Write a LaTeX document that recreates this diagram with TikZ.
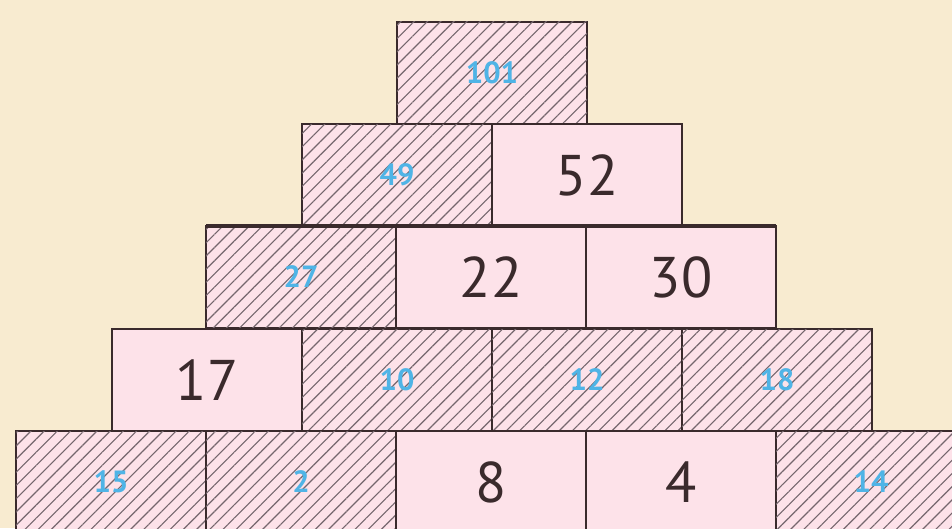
\documentclass[tikz,border=0pt]{standalone}
\usepackage{fontspec}
\setmainfont{PT Sans}
\usetikzlibrary{patterns.meta}
\definecolor{bg}{HTML}{F8EBD0}
\definecolor{brick}{HTML}{FDE2E9}
\definecolor{edge}{HTML}{3A2A2C}
\definecolor{hatch}{HTML}{75666D}
\definecolor{ans}{HTML}{4FB4E6}
\tikzset{
  cell/.style={draw=edge, line width=1.4pt, fill=brick, minimum width=190*0.75pt, minimum height=102*0.75pt, inner sep=0pt, outer sep=0pt, anchor=center, font=\fontsize{43}{45}\selectfont, text=edge},
  hcell/.style={cell, postaction={pattern={Lines[angle=45,distance=7pt,line width=0.85pt]}, pattern color=hatch}, font=\bfseries\fontsize{23}{25}\selectfont, text=ans}
}
\begin{document}
\begin{tikzpicture}[x=0.75pt,y=-0.75pt]
\fill[bg] (0,0) rectangle (952,528);
\useasboundingbox (0,0) rectangle (952,528);
\begin{scope}
\clip (0,0) rectangle (952,528);
% row 1
\node[hcell] (r1a) at (492,73) {101};
% row 2
\node[hcell] (r2a) at (397,175) {49};
\node[cell] (r2b) at (587,175) {52};
% row 3
\node[hcell] (r3a) at (301,277) {27};
\node[cell] (r3b) at (491,277) {22};
\node[cell] (r3c) at (681,277) {30};
% row 4
\node[cell] (r4a) at (207,380) {17};
\node[hcell] (r4b) at (397,380) {10};
\node[hcell] (r4c) at (587,380) {12};
\node[hcell] (r4d) at (777,380) {18};
% row 5
\node[hcell] (r5a) at (111,482) {15};
\node[hcell] (r5b) at (301,482) {2};
\node[cell] (r5c) at (491,482) {8};
\node[cell] (r5d) at (681,482) {4};
\node[hcell] (r5e) at (871,482) {14};
\draw[edge, line width=2.4pt] (r3a.north west) -- (r3c.north east);
\draw[edge, line width=2.2pt] (r4d.north east) -- (r4d.south east);
\end{scope}
\end{tikzpicture}
\end{document}
